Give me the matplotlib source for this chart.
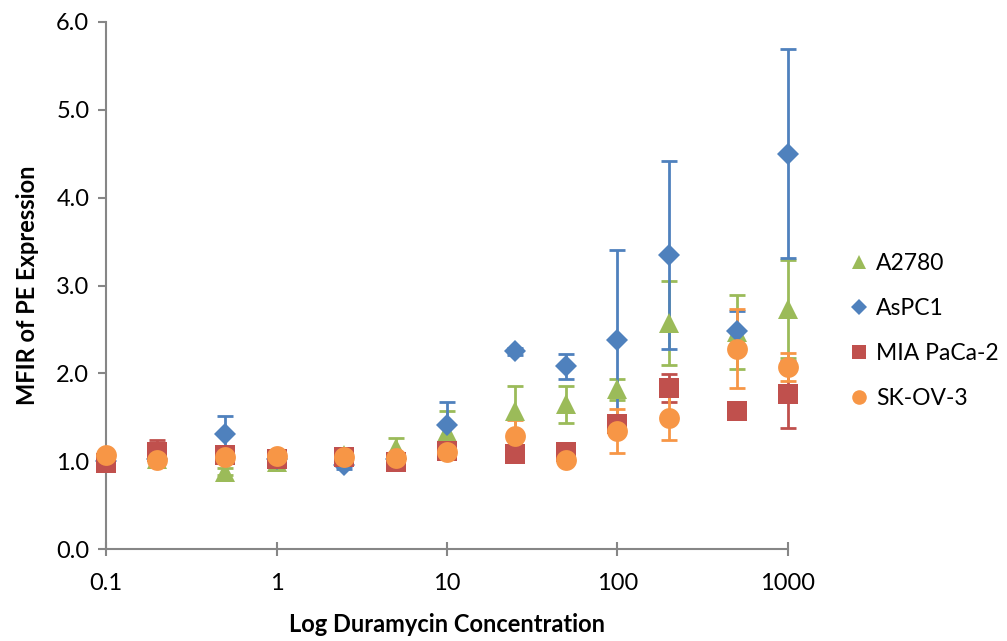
import numpy as np
import matplotlib
matplotlib.use('Agg')
import matplotlib.pyplot as plt
from matplotlib.lines import Line2D

plt.rcParams['font.family'] = ['Lato', 'DejaVu Sans']

conc = [0.1, 0.2, 0.5, 1, 2.5, 5, 10, 25, 50, 100, 200, 500, 1000]

a2780 = [1.00, 1.02, 0.88, 0.99, 1.07, 1.15, 1.33, 1.57, 1.65, 1.82, 2.57, 2.47, 2.73]
a2780_err = [0.02, 0.03, 0.04, 0.03, 0.08, 0.11, 0.24, 0.29, 0.21, 0.12, 0.48, 0.42, 0.56]

aspc1 = [1.00, 1.02, 1.31, 1.03, 0.96, 1.02, 1.41, 2.25, 2.08, 2.38, 3.35, 2.48, 4.50]
aspc1_err = [0.02, 0.02, 0.20, 0.03, 0.05, 0.03, 0.26, 0.04, 0.14, 1.02, 1.07, 0.23, 1.19]

mia = [0.98, 1.11, 1.07, 1.02, 1.05, 0.99, 1.12, 1.08, 1.11, 1.42, 1.83, 1.57, 1.76]
mia_err = [0.02, 0.13, 0.03, 0.03, 0.03, 0.02, 0.04, 0.03, 0.03, 0.10, 0.16, 0.02, 0.38]

skov3 = [1.07, 1.01, 1.05, 1.06, 1.05, 1.04, 1.10, 1.29, 1.01, 1.34, 1.49, 2.28, 2.07]
skov3_err = [0.03, 0.03, 0.03, 0.05, 0.03, 0.03, 0.05, 0.18, 0.03, 0.25, 0.25, 0.45, 0.16]

series = [
    ('A2780', a2780, a2780_err, '#9BBB59', '^', 14),
    ('AsPC1', aspc1, aspc1_err, '#4F81BD', 'D', 11),
    ('MIA PaCa-2', mia, mia_err, '#C0504D', 's', 14),
    ('SK-OV-3', skov3, skov3_err, '#F79646', 'o', 15),
]

fig = plt.figure(figsize=(10.07, 6.41), dpi=100)
ax = fig.add_axes([0.1053, 0.1435, 0.6772, 0.8222])

handles = []
for name, vals, err, col, mk, ms in series:
    line, caps, bars = ax.errorbar(conc, vals, yerr=err, fmt=mk, color=col, ecolor=col,
                                   markersize=ms, elinewidth=2, capsize=6, capthick=2)
    line.set_markeredgewidth(0)
    line.set_clip_on(False)
    for c in caps:
        c.set_clip_on(False)
    for b in bars:
        b.set_clip_on(False)
    handles.append(Line2D([], [], linestyle='none', marker=mk, color=col,
                          markersize=ms * 0.7, markeredgewidth=0))

ax.set_xscale('log')
ax.set_xlim(0.1, 1000)
ax.set_ylim(0, 6)
ax.set_yticks(np.arange(0, 6.1, 1.0))
ax.set_yticklabels(['%.1f' % v for v in np.arange(0, 6.1, 1.0)])
ax.set_xticks([0.1, 1, 10, 100, 1000])
ax.set_xticklabels(['0.1', '1', '10', '100', '1000'])
ax.minorticks_off()

for s in ['top', 'right']:
    ax.spines[s].set_visible(False)
for s in ['left', 'bottom']:
    ax.spines[s].set_color('#868686')
    ax.spines[s].set_linewidth(1.5)
    ax.spines[s].set_zorder(0.5)
ax.tick_params(axis='x', direction='inout', length=10, width=1.5, color='#868686',
               labelsize=17, pad=12)
ax.tick_params(axis='y', direction='out', length=6, width=1.5, color='#868686',
               labelsize=17, pad=6)

ax.set_xlabel('Log Duramycin Concentration', fontsize=17, fontweight='bold', labelpad=14)
ax.set_ylabel('MFIR of PE Expression', fontsize=17, fontweight='bold', labelpad=12)

fig.legend(handles=handles, labels=[s[0] for s in series],
           loc='center left', bbox_to_anchor=(0.823, 0.484),
           frameon=False, fontsize=16.5, handlelength=0.8, handletextpad=0.35,
           labelspacing=1.05)

fig.savefig('out.png', dpi=100)
